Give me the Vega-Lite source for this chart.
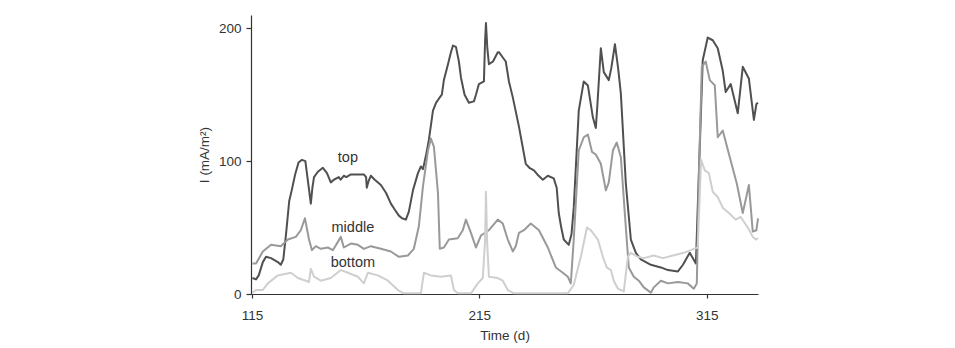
{
  "$schema": "https://vega.github.io/schema/vega-lite/v6.json",
  "width": 507,
  "height": 279,
  "autosize": {"type": "none"},
  "padding": {"left": 251, "top": 15, "right": 197, "bottom": 54},
  "background": "white",
  "config": {
    "view": {"stroke": null},
    "font": "Liberation Sans",
    "axis": {
      "labelFont": "Liberation Sans",
      "titleFont": "Liberation Sans",
      "labelFontSize": 13.5,
      "titleFontSize": 13.5,
      "titleFontWeight": "normal",
      "labelColor": "#333333",
      "titleColor": "#333333",
      "domainColor": "#333333",
      "tickColor": "#333333",
      "domainWidth": 1.2,
      "tickWidth": 1.2,
      "grid": false
    }
  },
  "datasets": {
    "lines": [
      {"series": "top", "day": 115.2, "I": 12}, {"series": "top", "day": 116.8, "I": 11}, {"series": "top", "day": 118, "I": 14}, {"series": "top", "day": 119.8, "I": 24}, {"series": "top", "day": 121.2, "I": 28}, {"series": "top", "day": 123.4, "I": 27}, {"series": "top", "day": 126.4, "I": 24}, {"series": "top", "day": 127.7, "I": 22}, {"series": "top", "day": 128.8, "I": 26}, {"series": "top", "day": 130, "I": 45}, {"series": "top", "day": 131.4, "I": 70}, {"series": "top", "day": 132.5, "I": 78}, {"series": "top", "day": 134, "I": 90}, {"series": "top", "day": 135.5, "I": 99}, {"series": "top", "day": 137, "I": 101}, {"series": "top", "day": 138.5, "I": 100}, {"series": "top", "day": 140, "I": 80}, {"series": "top", "day": 140.9, "I": 68}, {"series": "top", "day": 141.6, "I": 80}, {"series": "top", "day": 142.3, "I": 88}, {"series": "top", "day": 144, "I": 92}, {"series": "top", "day": 146.2, "I": 95}, {"series": "top", "day": 148, "I": 91}, {"series": "top", "day": 149.7, "I": 84}, {"series": "top", "day": 151, "I": 86}, {"series": "top", "day": 153.2, "I": 88}, {"series": "top", "day": 154, "I": 86}, {"series": "top", "day": 155.4, "I": 89}, {"series": "top", "day": 156.5, "I": 88}, {"series": "top", "day": 158.5, "I": 90}, {"series": "top", "day": 161, "I": 90}, {"series": "top", "day": 164.2, "I": 90}, {"series": "top", "day": 165.2, "I": 88}, {"series": "top", "day": 165.5, "I": 80}, {"series": "top", "day": 166.3, "I": 85}, {"series": "top", "day": 167.3, "I": 89}, {"series": "top", "day": 169, "I": 86}, {"series": "top", "day": 171.7, "I": 82}, {"series": "top", "day": 174, "I": 76}, {"series": "top", "day": 176.1, "I": 68}, {"series": "top", "day": 178, "I": 63}, {"series": "top", "day": 179.6, "I": 59}, {"series": "top", "day": 181, "I": 57}, {"series": "top", "day": 182.7, "I": 56}, {"series": "top", "day": 184, "I": 62}, {"series": "top", "day": 185.8, "I": 78}, {"series": "top", "day": 188, "I": 91}, {"series": "top", "day": 189.3, "I": 96}, {"series": "top", "day": 190.2, "I": 94}, {"series": "top", "day": 190.6, "I": 97}, {"series": "top", "day": 191.5, "I": 104}, {"series": "top", "day": 192.8, "I": 116}, {"series": "top", "day": 194.6, "I": 138}, {"series": "top", "day": 196, "I": 144}, {"series": "top", "day": 197.2, "I": 147}, {"series": "top", "day": 198.5, "I": 150}, {"series": "top", "day": 199.4, "I": 161}, {"series": "top", "day": 201.2, "I": 173}, {"series": "top", "day": 202.5, "I": 182}, {"series": "top", "day": 203.4, "I": 187}, {"series": "top", "day": 204.7, "I": 186}, {"series": "top", "day": 206, "I": 175}, {"series": "top", "day": 206.9, "I": 163}, {"series": "top", "day": 208.5, "I": 150}, {"series": "top", "day": 210.4, "I": 144}, {"series": "top", "day": 212.6, "I": 145}, {"series": "top", "day": 213.5, "I": 150}, {"series": "top", "day": 214.8, "I": 158}, {"series": "top", "day": 217, "I": 160}, {"series": "top", "day": 217.5, "I": 190}, {"series": "top", "day": 217.9, "I": 204}, {"series": "top", "day": 218.5, "I": 185}, {"series": "top", "day": 219.2, "I": 173}, {"series": "top", "day": 221, "I": 175}, {"series": "top", "day": 223.1, "I": 182}, {"series": "top", "day": 223.6, "I": 182}, {"series": "top", "day": 225.3, "I": 178}, {"series": "top", "day": 226.6, "I": 175}, {"series": "top", "day": 228, "I": 160}, {"series": "top", "day": 229.7, "I": 148}, {"series": "top", "day": 232.4, "I": 126}, {"series": "top", "day": 235.4, "I": 98}, {"series": "top", "day": 237, "I": 95}, {"series": "top", "day": 239, "I": 93}, {"series": "top", "day": 240.5, "I": 90}, {"series": "top", "day": 242.9, "I": 86}, {"series": "top", "day": 245.1, "I": 89}, {"series": "top", "day": 247.7, "I": 87}, {"series": "top", "day": 249, "I": 80}, {"series": "top", "day": 249.9, "I": 61}, {"series": "top", "day": 251, "I": 50}, {"series": "top", "day": 252.1, "I": 41}, {"series": "top", "day": 254.3, "I": 37}, {"series": "top", "day": 255.5, "I": 45}, {"series": "top", "day": 256.5, "I": 65}, {"series": "top", "day": 258.7, "I": 138}, {"series": "top", "day": 260.9, "I": 160}, {"series": "top", "day": 262.7, "I": 157}, {"series": "top", "day": 264.9, "I": 133}, {"series": "top", "day": 266.2, "I": 125}, {"series": "top", "day": 266.8, "I": 140}, {"series": "top", "day": 268.4, "I": 185}, {"series": "top", "day": 269.7, "I": 167}, {"series": "top", "day": 271.9, "I": 161}, {"series": "top", "day": 273, "I": 170}, {"series": "top", "day": 274.6, "I": 188}, {"series": "top", "day": 276, "I": 170}, {"series": "top", "day": 277.2, "I": 151}, {"series": "top", "day": 279.4, "I": 83}, {"series": "top", "day": 281.6, "I": 41}, {"series": "top", "day": 283.8, "I": 31}, {"series": "top", "day": 286, "I": 26}, {"series": "top", "day": 290.4, "I": 22}, {"series": "top", "day": 294.8, "I": 20}, {"series": "top", "day": 297.9, "I": 18}, {"series": "top", "day": 302.3, "I": 17}, {"series": "top", "day": 304.5, "I": 22}, {"series": "top", "day": 305.8, "I": 26}, {"series": "top", "day": 307.5, "I": 31}, {"series": "top", "day": 310.2, "I": 23}, {"series": "top", "day": 311.6, "I": 96}, {"series": "top", "day": 313.2, "I": 176}, {"series": "top", "day": 315.4, "I": 193}, {"series": "top", "day": 317.6, "I": 191}, {"series": "top", "day": 319.8, "I": 185}, {"series": "top", "day": 322, "I": 168}, {"series": "top", "day": 323.3, "I": 152}, {"series": "top", "day": 325.5, "I": 158}, {"series": "top", "day": 328.6, "I": 136}, {"series": "top", "day": 330.8, "I": 171}, {"series": "top", "day": 333.5, "I": 162}, {"series": "top", "day": 335.7, "I": 131}, {"series": "top", "day": 336.8, "I": 143}, {"series": "top", "day": 337.5, "I": 144},
      {"series": "middle", "day": 115.2, "I": 23}, {"series": "middle", "day": 116.8, "I": 23}, {"series": "middle", "day": 119.8, "I": 32}, {"series": "middle", "day": 123.4, "I": 37}, {"series": "middle", "day": 127.7, "I": 36}, {"series": "middle", "day": 130.8, "I": 41}, {"series": "middle", "day": 134.3, "I": 43}, {"series": "middle", "day": 136.5, "I": 48}, {"series": "middle", "day": 138.3, "I": 57}, {"series": "middle", "day": 140.1, "I": 41}, {"series": "middle", "day": 141.4, "I": 33}, {"series": "middle", "day": 143.1, "I": 36}, {"series": "middle", "day": 145.3, "I": 34}, {"series": "middle", "day": 148.4, "I": 35}, {"series": "middle", "day": 150.6, "I": 33}, {"series": "middle", "day": 154.1, "I": 43}, {"series": "middle", "day": 155.4, "I": 35}, {"series": "middle", "day": 158.5, "I": 38}, {"series": "middle", "day": 161.6, "I": 37}, {"series": "middle", "day": 164.2, "I": 34}, {"series": "middle", "day": 167.3, "I": 36}, {"series": "middle", "day": 171.7, "I": 34}, {"series": "middle", "day": 176.1, "I": 32}, {"series": "middle", "day": 179.6, "I": 28}, {"series": "middle", "day": 183.6, "I": 29}, {"series": "middle", "day": 186.2, "I": 34}, {"series": "middle", "day": 188.4, "I": 51}, {"series": "middle", "day": 190.2, "I": 81}, {"series": "middle", "day": 192.4, "I": 108}, {"series": "middle", "day": 193.7, "I": 117}, {"series": "middle", "day": 195, "I": 111}, {"series": "middle", "day": 196.8, "I": 76}, {"series": "middle", "day": 197.6, "I": 34}, {"series": "middle", "day": 199.4, "I": 35}, {"series": "middle", "day": 201.6, "I": 41}, {"series": "middle", "day": 205.5, "I": 42}, {"series": "middle", "day": 207.7, "I": 48}, {"series": "middle", "day": 209.1, "I": 56}, {"series": "middle", "day": 211.3, "I": 46}, {"series": "middle", "day": 213.5, "I": 35}, {"series": "middle", "day": 215.7, "I": 44}, {"series": "middle", "day": 219.2, "I": 48}, {"series": "middle", "day": 223.1, "I": 56}, {"series": "middle", "day": 225.3, "I": 53}, {"series": "middle", "day": 227.5, "I": 41}, {"series": "middle", "day": 229.7, "I": 32}, {"series": "middle", "day": 231, "I": 36}, {"series": "middle", "day": 232.4, "I": 46}, {"series": "middle", "day": 234.6, "I": 48}, {"series": "middle", "day": 237.6, "I": 53}, {"series": "middle", "day": 241.2, "I": 48}, {"series": "middle", "day": 245.1, "I": 35}, {"series": "middle", "day": 248.6, "I": 20}, {"series": "middle", "day": 251.7, "I": 16}, {"series": "middle", "day": 253.9, "I": 13}, {"series": "middle", "day": 255.2, "I": 8}, {"series": "middle", "day": 256.5, "I": 41}, {"series": "middle", "day": 258.7, "I": 108}, {"series": "middle", "day": 260.9, "I": 118}, {"series": "middle", "day": 262.7, "I": 120}, {"series": "middle", "day": 264.5, "I": 107}, {"series": "middle", "day": 266.2, "I": 105}, {"series": "middle", "day": 268.4, "I": 98}, {"series": "middle", "day": 270.6, "I": 78}, {"series": "middle", "day": 271.9, "I": 84}, {"series": "middle", "day": 273.7, "I": 108}, {"series": "middle", "day": 275.4, "I": 114}, {"series": "middle", "day": 277.2, "I": 103}, {"series": "middle", "day": 279.4, "I": 50}, {"series": "middle", "day": 280.7, "I": 20}, {"series": "middle", "day": 282.9, "I": 13}, {"series": "middle", "day": 285.1, "I": 10}, {"series": "middle", "day": 287.3, "I": 5}, {"series": "middle", "day": 290.4, "I": 1}, {"series": "middle", "day": 291.7, "I": 5}, {"series": "middle", "day": 294.8, "I": 10}, {"series": "middle", "day": 297.9, "I": 8}, {"series": "middle", "day": 302.3, "I": 9}, {"series": "middle", "day": 306.6, "I": 8}, {"series": "middle", "day": 309.3, "I": 4}, {"series": "middle", "day": 310.6, "I": 8}, {"series": "middle", "day": 311.6, "I": 96}, {"series": "middle", "day": 312.8, "I": 171}, {"series": "middle", "day": 314.5, "I": 175}, {"series": "middle", "day": 316.3, "I": 161}, {"series": "middle", "day": 318.5, "I": 157}, {"series": "middle", "day": 319.8, "I": 118}, {"series": "middle", "day": 322, "I": 123}, {"series": "middle", "day": 325.1, "I": 103}, {"series": "middle", "day": 328.2, "I": 83}, {"series": "middle", "day": 330.8, "I": 61}, {"series": "middle", "day": 333.5, "I": 82}, {"series": "middle", "day": 335.2, "I": 47}, {"series": "middle", "day": 336.8, "I": 48}, {"series": "middle", "day": 337.5, "I": 57},
      {"series": "bottom", "day": 115.2, "I": 1}, {"series": "bottom", "day": 116.8, "I": 3}, {"series": "bottom", "day": 119.8, "I": 3}, {"series": "bottom", "day": 122, "I": 8}, {"series": "bottom", "day": 126.4, "I": 14}, {"series": "bottom", "day": 132.1, "I": 16}, {"series": "bottom", "day": 135.2, "I": 12}, {"series": "bottom", "day": 138.7, "I": 10}, {"series": "bottom", "day": 140.1, "I": 9}, {"series": "bottom", "day": 140.9, "I": 19}, {"series": "bottom", "day": 142.3, "I": 13}, {"series": "bottom", "day": 145.3, "I": 10}, {"series": "bottom", "day": 149.7, "I": 12}, {"series": "bottom", "day": 154.1, "I": 18}, {"series": "bottom", "day": 157.2, "I": 16}, {"series": "bottom", "day": 161.6, "I": 13}, {"series": "bottom", "day": 164.2, "I": 8}, {"series": "bottom", "day": 166, "I": 16}, {"series": "bottom", "day": 170.4, "I": 14}, {"series": "bottom", "day": 174.8, "I": 10}, {"series": "bottom", "day": 179.2, "I": 3}, {"series": "bottom", "day": 181.8, "I": 0.5}, {"series": "bottom", "day": 189.3, "I": 0.5}, {"series": "bottom", "day": 190.6, "I": 16}, {"series": "bottom", "day": 193.7, "I": 14}, {"series": "bottom", "day": 198.1, "I": 13}, {"series": "bottom", "day": 202.5, "I": 14}, {"series": "bottom", "day": 203.8, "I": 3}, {"series": "bottom", "day": 205.5, "I": 0.5}, {"series": "bottom", "day": 211.3, "I": 0.5}, {"series": "bottom", "day": 214.3, "I": 8}, {"series": "bottom", "day": 216.5, "I": 12}, {"series": "bottom", "day": 217.5, "I": 40}, {"series": "bottom", "day": 217.9, "I": 77}, {"series": "bottom", "day": 218.4, "I": 40}, {"series": "bottom", "day": 219.2, "I": 13}, {"series": "bottom", "day": 223.1, "I": 12}, {"series": "bottom", "day": 225.3, "I": 10}, {"series": "bottom", "day": 227.5, "I": 3}, {"series": "bottom", "day": 230.2, "I": 0.5}, {"series": "bottom", "day": 253.9, "I": 0.5}, {"series": "bottom", "day": 256.5, "I": 7}, {"series": "bottom", "day": 259.6, "I": 28}, {"series": "bottom", "day": 262.3, "I": 50}, {"series": "bottom", "day": 264, "I": 48}, {"series": "bottom", "day": 267.1, "I": 41}, {"series": "bottom", "day": 269.3, "I": 28}, {"series": "bottom", "day": 271, "I": 20}, {"series": "bottom", "day": 272.8, "I": 18}, {"series": "bottom", "day": 274.1, "I": 10}, {"series": "bottom", "day": 275.9, "I": 4}, {"series": "bottom", "day": 278.5, "I": 2}, {"series": "bottom", "day": 280.3, "I": 28}, {"series": "bottom", "day": 281.6, "I": 31}, {"series": "bottom", "day": 284.7, "I": 28}, {"series": "bottom", "day": 287.3, "I": 27}, {"series": "bottom", "day": 291.7, "I": 29}, {"series": "bottom", "day": 295.7, "I": 27}, {"series": "bottom", "day": 300.1, "I": 29}, {"series": "bottom", "day": 304.9, "I": 31}, {"series": "bottom", "day": 309.3, "I": 34}, {"series": "bottom", "day": 311, "I": 35}, {"series": "bottom", "day": 312.5, "I": 101}, {"series": "bottom", "day": 314.1, "I": 93}, {"series": "bottom", "day": 315.9, "I": 91}, {"series": "bottom", "day": 317.6, "I": 77}, {"series": "bottom", "day": 319.8, "I": 73}, {"series": "bottom", "day": 322, "I": 65}, {"series": "bottom", "day": 324.7, "I": 61}, {"series": "bottom", "day": 327.7, "I": 56}, {"series": "bottom", "day": 329.9, "I": 58}, {"series": "bottom", "day": 333, "I": 50}, {"series": "bottom", "day": 335.2, "I": 43}, {"series": "bottom", "day": 336.5, "I": 41}, {"series": "bottom", "day": 337.5, "I": 42}
    ],
    "labels": [
      {"label": "top", "day": 157.2, "I": 102},
      {"label": "middle", "day": 159.4, "I": 49.7},
      {"label": "bottom", "day": 159.4, "I": 23.3}
    ]
  },
  "layer": [
    {
      "data": {"name": "lines"},
      "mark": {"type": "line", "strokeWidth": 2, "strokeJoin": "round"},
      "encoding": {
        "x": {
          "field": "day", "type": "quantitative",
          "scale": {"domain": [114.6, 337.5], "nice": false, "zero": false},
          "axis": {"values": [115, 215, 315], "title": "Time (d)", "tickSize": 4, "labelPadding": 10, "titlePadding": 7, "labelFlush": false}
        },
        "y": {
          "field": "I", "type": "quantitative",
          "scale": {"domain": [0, 210], "nice": false},
          "axis": {"values": [0, 100, 200], "title": "I (mA/m²)", "tickSize": 5, "labelPadding": 5, "titlePadding": 7}
        },
        "color": {
          "field": "series", "type": "nominal",
          "scale": {"domain": ["top", "middle", "bottom"], "range": ["#505050", "#999999", "#cfcfcf"]},
          "legend": null
        },
        "order": {"field": "day", "type": "quantitative"}
      }
    },
    {
      "data": {"name": "labels"},
      "mark": {"type": "text", "fontSize": 14.5, "color": "#333333", "font": "Liberation Sans", "align": "center", "baseline": "middle"},
      "encoding": {
        "x": {"field": "day", "type": "quantitative"},
        "y": {"field": "I", "type": "quantitative"},
        "text": {"field": "label"}
      }
    }
  ]
}
